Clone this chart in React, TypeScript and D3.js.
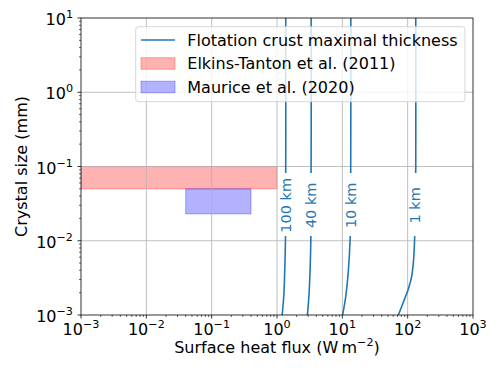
import React from "react";
import * as d3 from "d3";

const W = 498, H = 374;
const M = { left: 81, top: 18, right: 25, bottom: 59 };
const iw = W - M.left - M.right; // 392
const ih = H - M.top - M.bottom; // 297

const xTickExps = [-3, -2, -1, 0, 1, 2, 3];
const yTickExps = [-3, -2, -1, 0, 1];

const contourNames = ["1 km", "10 km", "40 km", "100 km"];
const sizes1km = [10, 0.1, 0.03, 0.0113, 0.0068, 0.005, 0.0033, 0.0027, 0.0021, 0.0017, 0.0013, 0.001];
const flux1km = [133, 133, 131, 128, 125, 122, 115, 109, 100, 91, 81, 72];
const sizes10km = [10, 0.03, 0.0113, 0.0037, 0.0018, 0.001];
const flux10km = [13.5, 13.4, 13.2, 12.3, 11.3, 10.1];
const sizes40km = [10, 0.0113, 0.0037, 0.0018, 0.001];
const flux40km = [3.33, 3.3, 3.2, 3.08, 2.92];
const sizes100km = [10, 0.0113, 0.0037, 0.0018, 0.001];
const flux100km = [1.36, 1.35, 1.31, 1.27, 1.2];
const labelSize = 0.03;

const elkinsFlux = [0.001, 1];
const elkinsSize = [0.05, 0.1];
const mauriceFlux = [0.04, 0.4];
const mauriceSize = [0.023, 0.05];

const legendLabels = ["Flotation crust maximal thickness", "Elkins-Tanton et al. (2011)", "Maurice et al. (2020)"];

const FONT = "DejaVu Sans, sans-serif";
const BLUE = "#1f77b4";

export default function App() {
  const x = d3.scaleLog().domain([1e-3, 1e3]).range([0, iw]);
  const y = d3.scaleLog().domain([1e-3, 1e1]).range([ih, 0]);

  const contours = [
    { name: contourNames[0], s: sizes1km, f: flux1km },
    { name: contourNames[1], s: sizes10km, f: flux10km },
    { name: contourNames[2], s: sizes40km, f: flux40km },
    { name: contourNames[3], s: sizes100km, f: flux100km },
  ];

  const line = d3
    .line<[number, number]>()
    .x((d) => x(d[1]))
    .y((d) => y(d[0]))
    .curve(d3.curveCatmullRom.alpha(0.5));

  const minorX: number[] = [];
  for (let e = -3; e < 3; e++) for (let k = 2; k <= 9; k++) minorX.push(k * Math.pow(10, e));
  const minorY: number[] = [];
  for (let e = -3; e < 1; e++) for (let k = 2; k <= 9; k++) minorY.push(k * Math.pow(10, e));

  const gapTop = 173 - M.top;
  const gapBot = 236 - M.top;

  const expText = (e: number) => (e < 0 ? "\u2212" + Math.abs(e) : String(e));

  return (
    <svg width={W} height={H} style={{ position: "absolute", left: 0, top: 0 }} fontFamily={FONT}>
      <rect width={W} height={H} fill="white" />
      <defs>
        <clipPath id="gapclip">
          <rect x={-5} y={0} width={iw + 10} height={gapTop} />
          <rect x={-5} y={gapBot} width={iw + 10} height={ih - gapBot} />
        </clipPath>
        <clipPath id="plotclip">
          <rect x={0} y={0} width={iw} height={ih} />
        </clipPath>
      </defs>
      <g transform={`translate(${M.left},${M.top})`}>
        {/* patches */}
        <g clipPath="url(#plotclip)">
          <rect
            x={x(elkinsFlux[0])}
            y={y(elkinsSize[1])}
            width={x(elkinsFlux[1]) - x(elkinsFlux[0])}
            height={y(elkinsSize[0]) - y(elkinsSize[1])}
            fill="red"
            fillOpacity={0.3}
            stroke="red"
            strokeOpacity={0.3}
            strokeWidth={1}
          />
          <rect
            x={x(mauriceFlux[0])}
            y={y(mauriceSize[1])}
            width={x(mauriceFlux[1]) - x(mauriceFlux[0])}
            height={y(mauriceSize[0]) - y(mauriceSize[1])}
            fill="blue"
            fillOpacity={0.3}
            stroke="blue"
            strokeOpacity={0.3}
            strokeWidth={1}
          />
        </g>
        {/* grid */}
        {xTickExps.slice(1, -1).map((e) => (
          <line key={"gx" + e} x1={x(Math.pow(10, e))} x2={x(Math.pow(10, e))} y1={0} y2={ih} stroke="#b0b0b0" strokeWidth={0.8} />
        ))}
        {yTickExps.slice(1, -1).map((e) => (
          <line key={"gy" + e} y1={y(Math.pow(10, e))} y2={y(Math.pow(10, e))} x1={0} x2={iw} stroke="#b0b0b0" strokeWidth={0.8} />
        ))}
        {/* contours */}
        <g clipPath="url(#gapclip)">
          {contours.map((c) => (
            <path
              key={c.name}
              d={line(c.s.map((s, i) => [s, c.f[i]] as [number, number])) || ""}
              fill="none"
              stroke={BLUE}
              strokeWidth={1.6}
            />
          ))}
        </g>
        {contours.map((c) => {
          let fx = c.f[0];
          for (let i = 0; i < c.s.length - 1; i++) {
            if (c.s[i] >= labelSize && c.s[i + 1] <= labelSize) {
              const t = (Math.log(c.s[i]) - Math.log(labelSize)) / (Math.log(c.s[i]) - Math.log(c.s[i + 1]));
              fx = Math.exp(Math.log(c.f[i]) + t * (Math.log(c.f[i + 1]) - Math.log(c.f[i])));
              break;
            }
          }
          const lx = x(fx);
          const ly = y(labelSize);
          return (
            <text
              key={"l" + c.name}
              transform={`translate(${lx},${ly}) rotate(-90)`}
              textAnchor="middle"
              dominantBaseline="central"
              fontSize={14.5}
              fill={BLUE}
            >
              {c.name}
            </text>
          );
        })}
        {/* spines */}
        <rect x={0} y={0} width={iw} height={ih} fill="none" stroke="black" strokeWidth={0.8} />
        {/* x ticks */}
        {xTickExps.map((e) => (
          <g key={"xt" + e} transform={`translate(${x(Math.pow(10, e))},${ih})`}>
            <line y1={0} y2={3.5} stroke="black" strokeWidth={0.8} />
            <text y={20} textAnchor="middle" fontSize={16} fill="black">
              10<tspan fontSize={11.2} dy={-7}>{expText(e)}</tspan>
            </text>
          </g>
        ))}
        {minorX.map((v, i) => (
          <line key={"mx" + i} x1={x(v)} x2={x(v)} y1={ih} y2={ih + 2} stroke="black" strokeWidth={0.6} />
        ))}
        {/* y ticks */}
        {yTickExps.map((e) => (
          <g key={"yt" + e} transform={`translate(0,${y(Math.pow(10, e))})`}>
            <line x1={0} x2={-3.5} stroke="black" strokeWidth={0.8} />
            <text x={-8} y={7} textAnchor="end" fontSize={16} fill="black">
              10<tspan fontSize={11.2} dy={-7}>{expText(e)}</tspan>
            </text>
          </g>
        ))}
        {minorY.map((v, i) => (
          <line key={"my" + i} y1={y(v)} y2={y(v)} x1={0} x2={-2} stroke="black" strokeWidth={0.6} />
        ))}
        {/* axis labels */}
        <text x={iw / 2} y={353 - M.top} textAnchor="middle" fontSize={16} fill="black">
          Surface heat flux (W{"\u2009"}m<tspan fontSize={11.2} dy={-7}>{"\u22122"}</tspan>
          <tspan dy={7}>)</tspan>
        </text>
        <text transform={`translate(${26.5 - M.left},${ih / 2}) rotate(-90)`} textAnchor="middle" fontSize={16} fill="black">
          Crystal size (mm)
        </text>
      </g>
      {/* legend */}
      <g>
        <rect x={135.7} y={26.7} width={465 - 135.7} height={101.7 - 26.7} rx={3} fill="white" fillOpacity={0.8} stroke="#cccccc" strokeOpacity={0.8} strokeWidth={1} />
        <line x1={141} x2={175} y1={40} y2={40} stroke={BLUE} strokeWidth={1.6} />
        <rect x={141} y={57.7} width={34} height={11.6} fill="red" fillOpacity={0.3} stroke="red" strokeOpacity={0.3} strokeWidth={1} />
        <rect x={141} y={81.2} width={34} height={11.6} fill="blue" fillOpacity={0.3} stroke="blue" strokeOpacity={0.3} strokeWidth={1} />
        {legendLabels.map((t, i) => (
          <text key={t} x={187.3} y={40 + i * 23.5 + 5.8} fontSize={16} fill="black">
            {t}
          </text>
        ))}
      </g>
    </svg>
  );
}
